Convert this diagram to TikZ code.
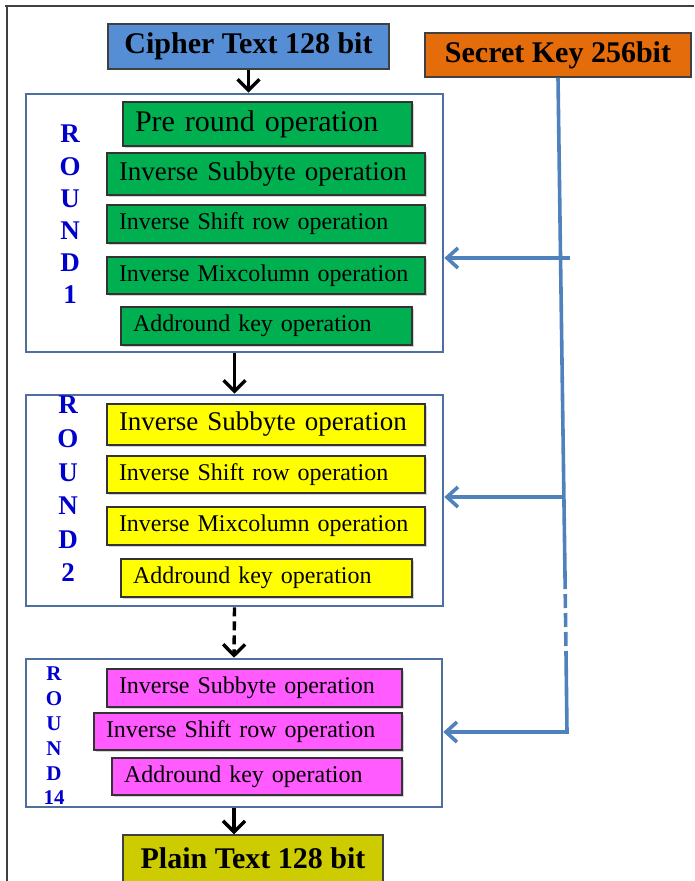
\documentclass[tikz,border=0pt]{standalone}
\usepackage{fontspec}
\setmainfont{Liberation Serif}
\usetikzlibrary{arrows.meta, shadows}

\definecolor{cipherblue}{HTML}{558ED5}
\definecolor{keyorange}{HTML}{E46C0A}
\definecolor{plainolive}{HTML}{CCCC00}
\definecolor{opgreen}{HTML}{00B050}
\definecolor{opyellow}{HTML}{FFFF00}
\definecolor{oppink}{HTML}{FF5BFF}
\definecolor{roundblue}{HTML}{0000CC}
\definecolor{roundframe}{HTML}{4F6FA0}
\definecolor{keyblue}{HTML}{4F81BD}

\tikzset{
  iobox/.style={draw=black!75, line width=1.4pt, inner sep=0pt,
    font=\bfseries\fontsize{30}{32}\selectfont},
  opbox/.style={draw=black!80, line width=1.4pt, inner xsep=12pt, inner ysep=0pt,
    align=left, font=\fontsize{24}{26}\selectfont,
    drop shadow={shadow xshift=1.5pt, shadow yshift=-1.5pt, opacity=0.35}},
  roundbox/.style={draw=roundframe, line width=2.6pt, inner sep=0pt},
  roundlabel/.style 2 args={text=roundblue, align=center, inner sep=0pt,
    font=\bfseries\fontsize{#1}{#2}\selectfont},
  flow/.style={line width=3.4pt, -{Straight Barb[length=11pt, width=22pt]}},
  keyline/.style={draw=keyblue, line width=3.6pt},
  keyarrow/.style={keyline, -{Straight Barb[length=11pt, width=20pt]}},
  framerule/.style={draw=black!75, line width=2pt},
}

\begin{document}
\begin{tikzpicture}[x=1pt, y=-1pt]
  \useasboundingbox (0,0) rectangle (694,881);
  \draw[framerule] (5,6) -- (694,6);% page frame
  \draw[framerule] (7,5) -- (7,881);

  \coordinate (kr1)    at (570,258);
  \coordinate (kr2)    at (565,497);
  \coordinate (kdash1) at (565,575);
  \coordinate (kdash2) at (566,652);
  \coordinate (kr14)   at (567,732);

  % input, key, output
  \node[iobox, fill=cipherblue, minimum width=281pt, minimum height=45pt] (cipher) at (248.5,46.5) {Cipher Text 128 bit};
  \node[iobox, fill=keyorange, minimum width=266pt, minimum height=44pt] (key) at (558,55) {Secret Key 256bit};
  \node[iobox, fill=plainolive, minimum width=260pt, minimum height=47pt] (plain) at (253,858.5) {Plain Text 128 bit};

  % round frames
  \node[roundbox, minimum width=417pt, minimum height=258pt] (r1) at (234.5,223) {};
  \node[roundbox, minimum width=417pt, minimum height=211pt] (r2) at (234.5,500.5) {};
  \node[roundbox, minimum width=416pt, minimum height=148pt] (r14) at (234,733) {};

  \node[roundlabel={27}{32.2}] (r1lab) at (70,214.5) {R\\O\\U\\N\\D\\1};
  \node[roundlabel={27}{33.6}] (r2lab) at (68,489) {R\\O\\U\\N\\D\\2};
  \node[roundlabel={21}{24.8}] (r14lab) at (54,736) {R\\O\\U\\N\\D\\14};

  % round 1
  \node[opbox, fill=opgreen, text width=265pt, minimum height=44pt, font=\fontsize{30}{32}\selectfont] (r1pre) at (267.5,124) {Pre round operation};
  \node[opbox, fill=opgreen, text width=294pt, minimum height=42pt, font=\fontsize{27}{29}\selectfont] (r1sub) at (266,174) {Inverse Subbyte operation};
  \node[opbox, fill=opgreen, text width=294pt, minimum height=38pt] (r1shift) at (266,224) {Inverse Shift row operation};
  \node[opbox, fill=opgreen, text width=294pt, minimum height=37pt] (r1mix) at (266,275.5) {Inverse Mixcolumn operation};
  \node[opbox, fill=opgreen, text width=267pt, minimum height=38pt] (r1add) at (266.5,326) {Addround key operation};

  % round 2
  \node[opbox, fill=opyellow, text width=294pt, minimum height=41pt, font=\fontsize{27}{29}\selectfont] (r2sub) at (266,424.5) {Inverse Subbyte operation};
  \node[opbox, fill=opyellow, text width=294pt, minimum height=37pt] (r2shift) at (266,474.5) {Inverse Shift row operation};
  \node[opbox, fill=opyellow, text width=294pt, minimum height=38pt] (r2mix) at (266,526) {Inverse Mixcolumn operation};
  \node[opbox, fill=opyellow, text width=267pt, minimum height=38pt] (r2add) at (266.5,578) {Addround key operation};

  % round 14
  \node[opbox, fill=oppink, text width=271pt, minimum height=38pt] (r14sub) at (254.5,688) {Inverse Subbyte operation};
  \node[opbox, fill=oppink, text width=284pt, minimum height=37pt] (r14shift) at (248,731.5) {Inverse Shift row operation};
  \node[opbox, fill=oppink, text width=266pt, minimum height=37pt] (r14add) at (257,776.5) {Addround key operation};

  % data flow
  \draw[flow] (cipher.south) -- (cipher.south |- r1.north);
  \draw[flow] (r1.south) -- (r2.north);
  \draw[flow, dash pattern=on 9pt off 5pt] (r2.south) -- (r14.north);
  \draw[flow] (r14.south) -- (r14.south |- plain.north);

  % key schedule
  \draw[keyline] (key.south) -- (kdash1);
  \draw[keyline, dash pattern=on 14pt off 5pt] (kdash1) -- (kdash2);
  \draw[keyarrow] (kdash2) -- (kr14) -- (kr14 -| r14.east);
  \draw[keyarrow] (kr1) -- (kr1 -| r1.east);
  \draw[keyarrow] (kr2) -- (kr2 -| r2.east);
\end{tikzpicture}
\end{document}
